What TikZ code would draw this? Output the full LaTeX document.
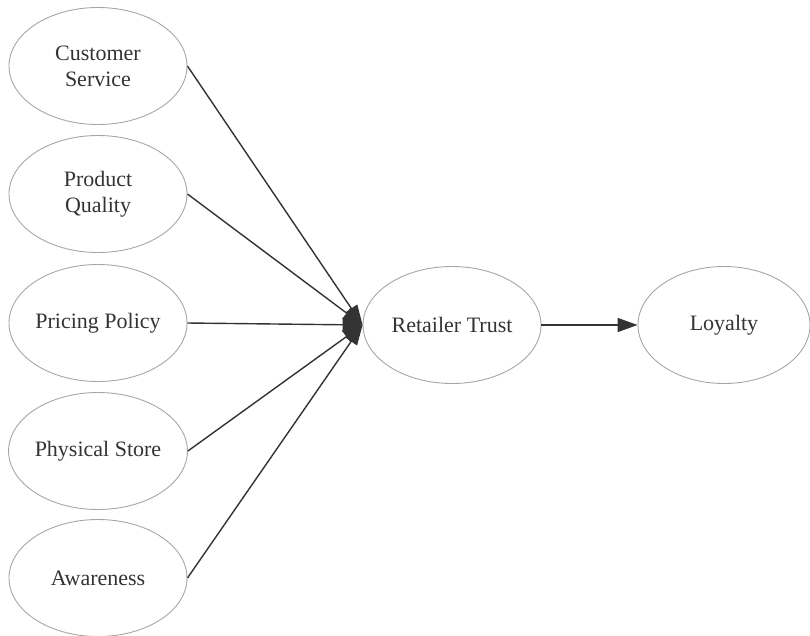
\documentclass[tikz,border=0pt]{standalone}
\usepackage{fontspec}
\setmainfont{Liberation Serif}
\usetikzlibrary{shapes.geometric,arrows.meta}
\begin{document}
\begin{tikzpicture}[x=1pt,y=-1pt,
  ell/.style={ellipse,draw=black!35,line width=0.9pt,minimum width=178pt,minimum height=117pt,inner sep=0pt,
    font=\fontsize{22}{26}\selectfont,text=black!80,align=center},
  conn/.style={draw=black!80,line width=1.4pt,-{Triangle[length=20pt,width=14pt]}}]
\useasboundingbox (0,0) rectangle (810,635);
\node[ell] (cs) at (98,66) {Customer\\Service};
\node[ell] (pq) at (98,194) {Product\\Quality};
\node[ell] (pp) at (98,323) {Pricing Policy};
\node[ell] (ps) at (98,451) {Physical Store};
\node[ell] (aw) at (98,578) {Awareness};
\node[ell] (rt) at (452,325) {Retailer Trust};
\node[ell,minimum width=172pt] (lo) at (724,325) {Loyalty};
\foreach \n in {cs,pq,pp,ps,aw} \draw[conn] (\n.east) -- (rt.west);
\draw[conn] (rt.east) -- (lo.west);
\end{tikzpicture}
\end{document}
